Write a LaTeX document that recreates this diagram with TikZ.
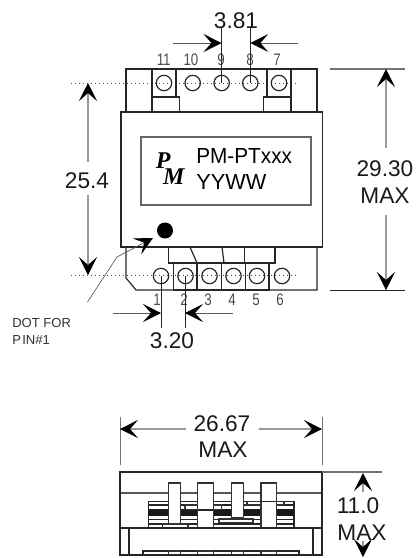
\documentclass[tikz,border=0pt]{standalone}
\usepackage{fontspec}
\setmainfont{Liberation Sans}
\newfontfamily\logofont{Liberation Serif}
\newfontfamily\pinfont[FakeStretch=0.8]{Liberation Sans}
\usetikzlibrary{arrows.meta}
\tikzset{
	outline/.style={draw=black!85,line width=0.9pt},
	thick outline/.style={draw=black!85,line width=1.4pt},
	pin/.style={draw=black!80,line width=0.9pt,fill=white},
	extension/.style={draw=black!85,line width=0.6pt},
	dim arrow/.style={draw=black!40,line width=0.8pt,-{Stealth[black,inset=6pt,length=13.5pt,width=13.5pt]}},
	fine arrow/.style={draw=black!65,line width=0.5pt,-{Stealth[black,inset=6pt,length=13.5pt,width=13.5pt]}},
	dim text/.style={font=\fontsize{17pt}{18pt}\selectfont,inner sep=0pt,text=black!90},
	pin text/.style={font=\pinfont\fontsize{12.5pt}{14pt}\selectfont,inner sep=0pt,text=black!70},
	note text/.style={font=\fontsize{9.8pt}{12pt}\selectfont,inner sep=0pt,anchor=west,text=black!80},
	logo text/.style={font=\logofont\bfseries\itshape\fontsize{18pt}{12.3pt}\selectfont,inner sep=0pt,align=left,anchor=west},
	axis/.style={draw=black!70,line width=0.6pt,dash pattern=on 0.75pt off 2.25pt}
}
\begin{document}
\begin{tikzpicture}[x=0.75pt,y=-0.75pt]
	\useasboundingbox (0,0) rectangle (416,558);
	\draw[axis] (71,83) -- (298,83);
	\draw[axis] (71,275) -- (298,275);
	\draw[outline] (126,112) -- (126,69) -- (317,69) -- (317,112);
	\draw[outline] (152,69) rectangle (176,97);
	\draw[outline] (152,97) rectangle (179.5,112);
	\draw[outline] (267,69) rectangle (291,97);
	\draw[outline] (263.5,97) rectangle (291,112);
	\draw[outline] (121,112) rectangle (322.5,247);
	\draw[draw=black!60,line width=0.8pt] (141,137) rectangle (311,205);
	\draw[outline] (126,247) -- (126,278) -- (136,290) -- (317,290) -- (317,247);
	\draw[outline] (168.5,247) rectangle (275,263);
	\draw[outline] (190,247) -- (197,263);
	\draw[outline] (222,247) -- (224,263);
	\draw[outline] (244.5,247) -- (244.5,263);
	\draw[outline] (173.5,263) rectangle (197,290);
	\draw[outline] (197,263) rectangle (221.5,290);
	\draw[outline] (221.5,263) rectangle (245.5,290);
	\draw[outline] (245.5,263) rectangle (269,290);
	\draw[outline] (164,83) circle (7.7);
	\draw[outline] (192.7,83) circle (7.7);
	\draw[outline] (221.7,83) circle (7.7);
	\draw[outline] (250.3,83) circle (7.7);
	\draw[outline] (279,83) circle (7.7);
	\draw[outline] (161,276) circle (7.7);
	\draw[outline] (185.5,276) circle (7.7);
	\draw[outline] (209.5,276) circle (7.7);
	\draw[outline] (233.5,276) circle (7.7);
	\draw[outline] (257,276) circle (7.7);
	\draw[outline] (282,276) circle (7.7);
	\fill[black] (165,230.5) circle (8);
	\draw[fine arrow] (87.5,302) -- (117,257) -- (153,238);
	\node[pin text] (p11) at (163.7,60) {11};
	\node[pin text] (p10) at (191,60) {10};
	\node[pin text] (p9) at (221,60) {9};
	\node[pin text] (p8) at (250,60) {8};
	\node[pin text] (p7) at (277,60) {7};
	\node[pin text] (p1) at (157,300) {1};
	\node[pin text] (p2) at (184,300) {2};
	\node[pin text] (p3) at (208,300) {3};
	\node[pin text] (p4) at (232,300) {4};
	\node[pin text] (p5) at (256,300) {5};
	\node[pin text] (p6) at (280,300) {6};
	\node[inner sep=0pt,anchor=west] (partno) at (196,156) {\resizebox{71.8pt}{11.25pt}{PM-PTxxx}};
	\node[inner sep=0pt,anchor=west] (datecode) at (196,182) {\resizebox{52.5pt}{11.25pt}{YYWW}};
	\node[logo text] (logo) at (155.5,168.5) {P\\\kern5.5pt M};
	\draw[extension] (221.5,28) -- (221.5,83);
	\draw[extension] (250.3,28) -- (250.3,83);
	\draw[fine arrow] (173,43) -- (221.5,43);
	\draw[fine arrow] (298,43) -- (250.3,43);
	\node[dim text] (pitchtop) at (236,21) {3.81};
	\draw[draw=black!55,line width=0.9pt] (330,69) -- (405,69);
	\draw[extension] (330,290) -- (405,290);
	\draw[dim arrow] (386,148) -- (386,69);
	\draw[dim arrow] (386,215) -- (386,290);
	\node[dim text] (heightmax) at (385,169) {29.30};
	\node[dim text] (heightlabel) at (385,196) {MAX};
	\draw[dim arrow] (88,162) -- (88,83);
	\draw[dim arrow] (88,195) -- (88,275);
	\node[dim text] (rowspan) at (87,181) {25.4};
	\draw[extension] (161,276) -- (161,328);
	\draw[extension] (185,276) -- (185,328);
	\draw[fine arrow] (113,313) -- (161,313);
	\draw[fine arrow] (233,313) -- (185,313);
	\node[dim text] (pitchbot) at (172,341) {3.20};
	\node[note text] (dotfor) at (12,323) {DOT FOR};
	\node[note text] (pinone) at (12,339.5) {P\kern1pt IN\#1};
	\draw[draw=black!55,line width=0.7pt] (120,417) -- (120,465);
	\draw[draw=black!55,line width=0.7pt] (322,417) -- (322,465);
	\draw[dim arrow] (186,429) -- (120,429);
	\draw[dim arrow] (259,429) -- (322,429);
	\node[dim text] (widthmax) at (222,424) {26.67};
	\node[dim text] (widthlabel) at (223,450) {MAX};
	\draw[draw=black!65,line width=1.1pt] (120,493) -- (322,493);
	\draw[outline] (148.3,501.7) rectangle (294,528);
	\fill[black!90] (148.3,509) rectangle (294,515.7);
	\draw[outline] (148.3,505) -- (294,505);
	\draw[outline] (148.3,519.3) -- (294,519.3);
	\draw[outline] (148.3,524) -- (294,524);
	\draw[pin] (185,505) rectangle (221.7,509.3);
	\draw[pin] (247,501.7) rectangle (284,505);
	\draw[pin] (219,519) rectangle (253,522.3);
	\draw[pin] (162.7,524) rectangle (188,528);
	\draw[pin] (168.3,483) rectangle (180.7,524);
	\draw[pin] (197.7,483) rectangle (213.3,528);
	\draw[outline] (197.7,510) -- (213.3,510);
	\draw[pin] (231.7,483) rectangle (243.3,518);
	\draw[pin] (261,483) rectangle (276.7,528);
	\draw[outline] (261,501.7) -- (276.7,501.7);
	\draw[outline] (143,551) rectangle (299,555);
	\draw[pin] (168.3,551) rectangle (180.7,555);
	\draw[pin] (197.7,551) rectangle (213.3,555);
	\draw[pin] (231.7,551) rectangle (243.3,555);
	\draw[pin] (261,551) rectangle (276.7,555);
	\draw[thick outline] (120,472) rectangle (322,555);
	\draw[thick outline] (120,528) -- (322,528);
	\draw[outline] (129,528) -- (129,555);
	\draw[outline] (313,528) -- (313,555);
	\draw[draw=black!55,line width=0.9pt] (322,472) -- (382,472);
	\draw[dim arrow] (363,492) -- (363,473);
	\draw[dim arrow] (363,541) -- (363,557);
	\node[dim text] (depthmax) at (358,506) {11.0};
	\node[dim text] (depthlabel) at (362,533) {MAX};
\end{tikzpicture}
\end{document}
